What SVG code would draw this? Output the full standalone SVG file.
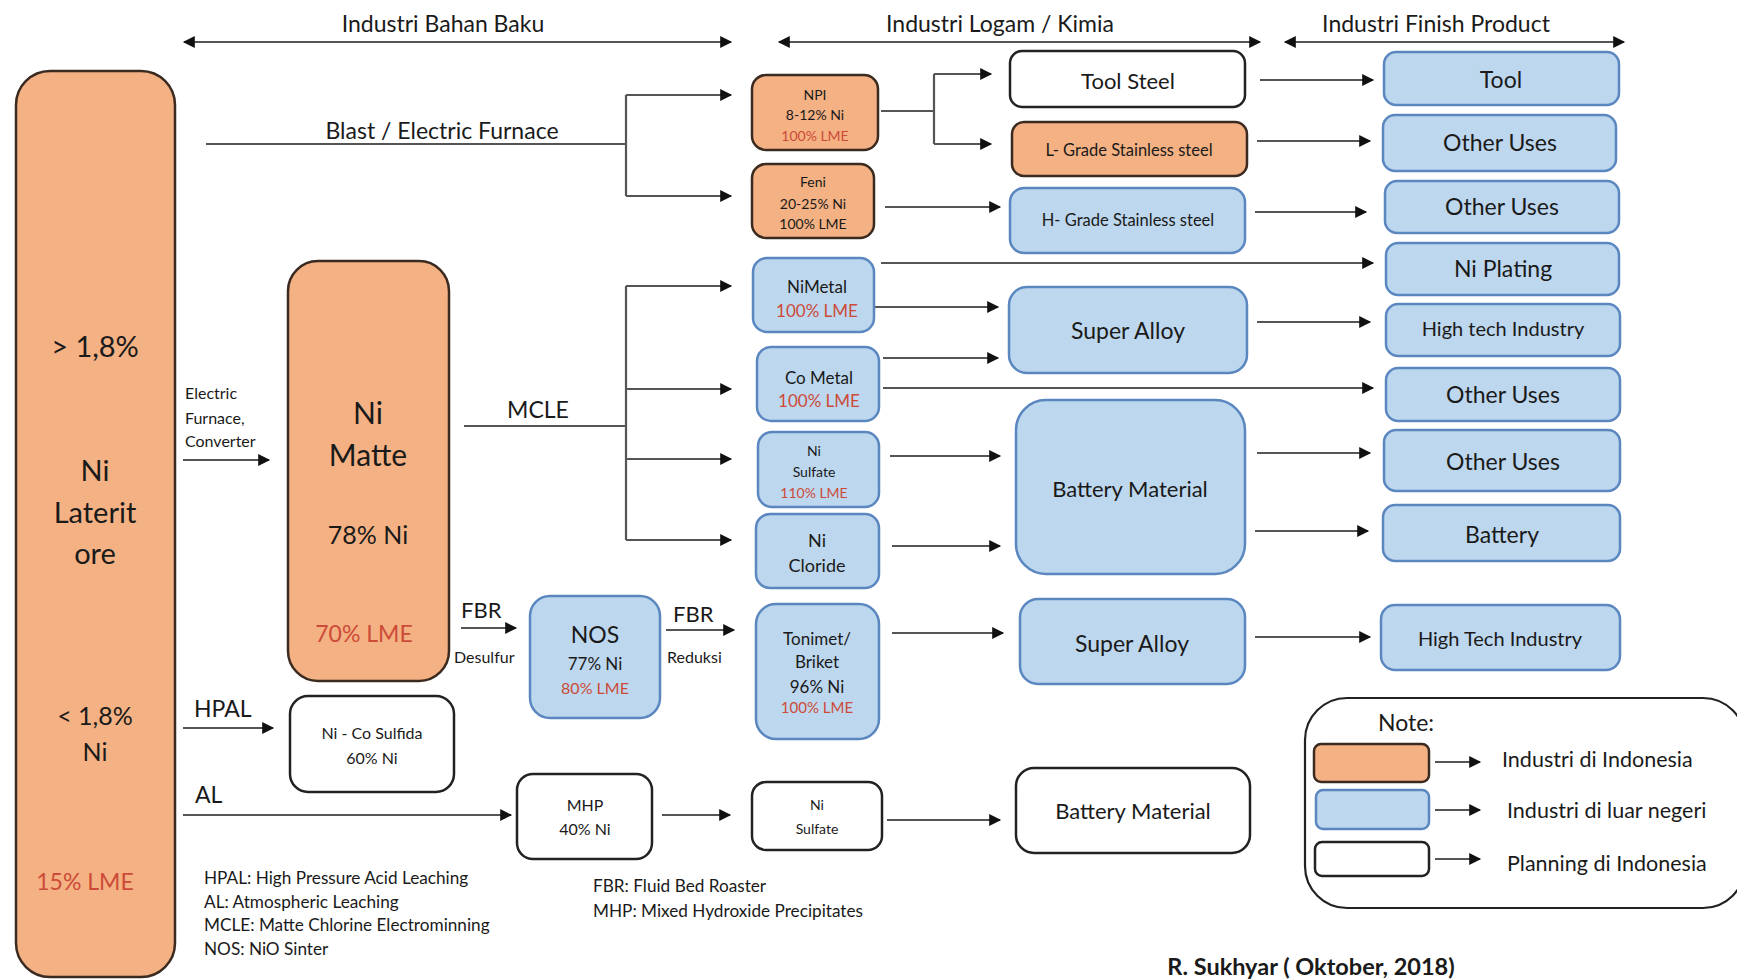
<svg xmlns="http://www.w3.org/2000/svg" width="1737" height="980" viewBox="0 0 1737 980">
<defs>
<marker id="ah" viewBox="0 0 10 10" refX="9" refY="5" markerWidth="13" markerHeight="12" markerUnits="userSpaceOnUse" orient="auto-start-reverse"><path d="M0,0 L10,5 L0,10 z" fill="#111"/></marker>
</defs>
<style>
text{font-family:Lato,"Open Sans","Liberation Sans",sans-serif;fill:#1a1a1a;text-anchor:middle}
.or{fill:#F4B183;stroke:#3b2a20;stroke-width:2.5}
.bl{fill:#BDD7EE;stroke:#5B87C0;stroke-width:2.5}
.wh{fill:#fff;stroke:#222;stroke-width:2.5}
.red{fill:#CC4B38}
.l{text-anchor:start}
.c line,.c path{stroke:#555;stroke-width:2.2;fill:none}
.c .a{marker-end:url(#ah)}
.c .d{marker-start:url(#ah);marker-end:url(#ah)}
</style>
<rect width="1737" height="980" fill="#fff"/>

<!-- headers -->
<g id="headers">
<text x="443" y="32" font-size="23">Industri Bahan Baku</text>
<text x="1000" y="32" font-size="23">Industri Logam / Kimia</text>
<text x="1436" y="32" font-size="23">Industri Finish Product</text>
</g>

<!-- connectors -->
<g class="c" id="connectors">
<line class="d" x1="184" y1="42" x2="731" y2="42"/>
<line class="d" x1="779" y1="42" x2="1260" y2="42"/>
<line class="d" x1="1285" y1="42" x2="1624" y2="42"/>
<!-- blast furnace -->
<line x1="206" y1="144" x2="626" y2="144"/>
<line x1="626" y1="95" x2="626" y2="196"/>
<line class="a" x1="626" y1="95" x2="731" y2="95"/>
<line class="a" x1="626" y1="196" x2="731" y2="196"/>
<!-- NPI split -->
<line x1="881" y1="111" x2="934" y2="111"/>
<line x1="934" y1="74" x2="934" y2="144"/>
<line class="a" x1="934" y1="74" x2="991" y2="74"/>
<line class="a" x1="934" y1="144" x2="991" y2="144"/>
<line class="a" x1="885" y1="207" x2="1000" y2="207"/>
<!-- to finish products -->
<line class="a" x1="1260" y1="80" x2="1373" y2="80"/>
<line class="a" x1="1257" y1="141" x2="1370" y2="141"/>
<line class="a" x1="1255" y1="212" x2="1366" y2="212"/>
<line class="a" x1="881" y1="263" x2="1373" y2="263"/>
<line class="a" x1="875" y1="307" x2="998" y2="307"/>
<line class="a" x1="883" y1="358" x2="998" y2="358"/>
<line class="a" x1="883" y1="388" x2="1373" y2="388"/>
<line class="a" x1="890" y1="456" x2="1000" y2="456"/>
<line class="a" x1="892" y1="546" x2="1000" y2="546"/>
<line class="a" x1="892" y1="633" x2="1003" y2="633"/>
<line class="a" x1="887" y1="820" x2="1000" y2="820"/>
<line class="a" x1="1257" y1="322" x2="1370" y2="322"/>
<line class="a" x1="1257" y1="453" x2="1370" y2="453"/>
<line class="a" x1="1255" y1="531" x2="1368" y2="531"/>
<line class="a" x1="1255" y1="637" x2="1370" y2="637"/>
<!-- MCLE -->
<line x1="464" y1="426" x2="626" y2="426"/>
<line x1="626" y1="286" x2="626" y2="540"/>
<line class="a" x1="626" y1="286" x2="731" y2="286"/>
<line class="a" x1="626" y1="389" x2="731" y2="389"/>
<line class="a" x1="626" y1="459" x2="731" y2="459"/>
<line class="a" x1="626" y1="540" x2="731" y2="540"/>
<!-- left side -->
<line class="a" x1="183" y1="460" x2="269" y2="460"/>
<line class="a" x1="461" y1="628" x2="516" y2="628"/>
<line class="a" x1="666" y1="630" x2="734" y2="630"/>
<line class="a" x1="183" y1="728" x2="273" y2="728"/>
<line class="a" x1="183" y1="815" x2="511" y2="815"/>
<line class="a" x1="662" y1="815" x2="730" y2="815"/>
<!-- legend arrows -->
<line class="a" x1="1435" y1="762" x2="1480" y2="762"/>
<line class="a" x1="1435" y1="810" x2="1480" y2="810"/>
<line class="a" x1="1435" y1="859" x2="1480" y2="859"/>
</g>

<!-- connector labels -->
<g id="labels">
<text x="442" y="139" font-size="23">Blast / Electric Furnace</text>
<text x="538" y="418" font-size="23">MCLE</text>
<text class="l" x="185" y="399" font-size="16">Electric</text>
<text class="l" x="185" y="424" font-size="16">Furnace,</text>
<text class="l" x="185" y="447" font-size="16">Converter</text>
<text class="l" x="461" y="618" font-size="22">FBR</text>
<text class="l" x="454" y="663" font-size="16">Desulfur</text>
<text class="l" x="673" y="622" font-size="22">FBR</text>
<text class="l" x="667" y="663" font-size="16">Reduksi</text>
<text class="l" x="194" y="717" font-size="23">HPAL</text>
<text class="l" x="195" y="803" font-size="23">AL</text>
</g>

<g id="n-ore"><rect class="or" x="16" y="71" width="159" height="906" rx="34"/>
<text x="95" y="357" font-size="29">&gt; 1,8%</text>
<text x="95" y="481" font-size="29">Ni</text>
<text x="95" y="523" font-size="29">Laterit</text>
<text x="95" y="564" font-size="29">ore</text>
<text x="95" y="725" font-size="25">&lt; 1,8%</text>
<text x="95" y="761" font-size="25">Ni</text>
<text class="red" x="85" y="890" font-size="23">15% LME</text></g>

<g id="n-matte"><rect class="or" x="288" y="261" width="161" height="420" rx="30"/>
<text x="368" y="424" font-size="30">Ni</text>
<text x="368" y="466" font-size="30">Matte</text>
<text x="368" y="544" font-size="25">78% Ni</text>
<text class="red" x="364" y="642" font-size="23">70% LME</text></g>

<g id="n-nos"><rect class="bl" x="530" y="596" width="130" height="122" rx="20"/>
<text x="595" y="643" font-size="23">NOS</text>
<text x="595" y="670" font-size="17">77% Ni</text>
<text class="red" x="595" y="694" font-size="16">80% LME</text></g>

<g id="n-nicos"><rect class="wh" x="290" y="696" width="164" height="96" rx="18"/>
<text x="372" y="739" font-size="16">Ni - Co Sulfida</text>
<text x="372" y="764" font-size="16">60% Ni</text></g>

<g id="n-mhp"><rect class="wh" x="517" y="774" width="135" height="85" rx="16"/>
<text x="585" y="811" font-size="16">MHP</text>
<text x="585" y="835" font-size="16">40% Ni</text></g>

<g id="n-npi"><rect class="or" x="752" y="75" width="126" height="75" rx="14"/>
<text x="815" y="100" font-size="14">NPI</text>
<text x="815" y="120" font-size="14">8-12% Ni</text>
<text class="red" x="815" y="141" font-size="14">100% LME</text></g>

<g id="n-feni"><rect class="or" x="752" y="164" width="122" height="74" rx="14"/>
<text x="813" y="187" font-size="14">Feni</text>
<text x="813" y="209" font-size="14">20-25% Ni</text>
<text x="813" y="229" font-size="14">100% LME</text></g>

<g id="n-nimetal"><rect class="bl" x="753" y="258" width="121" height="74" rx="14"/>
<text x="817" y="293" font-size="17">NiMetal</text>
<text class="red" x="817" y="317" font-size="17">100% LME</text></g>

<g id="n-cometal"><rect class="bl" x="757" y="347" width="122" height="74" rx="14"/>
<text x="819" y="384" font-size="17">Co Metal</text>
<text class="red" x="819" y="407" font-size="17">100% LME</text></g>

<g id="n-nisulfate"><rect class="bl" x="758" y="432" width="121" height="75" rx="14"/>
<text x="814" y="456" font-size="14">Ni</text>
<text x="814" y="477" font-size="14">Sulfate</text>
<text class="red" x="814" y="498" font-size="14">110% LME</text></g>

<g id="n-nicloride"><rect class="bl" x="756" y="514" width="123" height="74" rx="14"/>
<text x="817" y="547" font-size="18">Ni</text>
<text x="817" y="572" font-size="18">Cloride</text></g>

<g id="n-tonimet"><rect class="bl" x="756" y="604" width="123" height="135" rx="20"/>
<text x="817" y="645" font-size="17">Tonimet/</text>
<text x="817" y="668" font-size="17">Briket</text>
<text x="817" y="693" font-size="17">96% Ni</text>
<text class="red" x="817" y="713" font-size="15">100% LME</text></g>

<g id="n-nisulfate2"><rect class="wh" x="752" y="782" width="130" height="68" rx="14"/>
<text x="817" y="810" font-size="14">Ni</text>
<text x="817" y="834" font-size="14">Sulfate</text></g>

<g id="n-toolsteel"><rect class="wh" x="1010" y="51" width="235" height="56" rx="12"/>
<text x="1128" y="89" font-size="22">Tool Steel</text></g>

<g id="n-lgrade"><rect class="or" x="1012" y="122" width="235" height="54" rx="12"/>
<text x="1129" y="156" font-size="16.5">L- Grade Stainless steel</text></g>

<g id="n-hgrade"><rect class="bl" x="1010" y="188" width="235" height="65" rx="14"/>
<text x="1128" y="226" font-size="16.5">H- Grade Stainless steel</text></g>

<g id="n-superalloy1"><rect class="bl" x="1009" y="287" width="238" height="86" rx="18"/>
<text x="1128" y="339" font-size="23">Super Alloy</text></g>

<g id="n-battmat1"><rect class="bl" x="1016" y="400" width="229" height="174" rx="30"/>
<text x="1130" y="497" font-size="22">Battery Material</text></g>

<g id="n-superalloy2"><rect class="bl" x="1020" y="599" width="225" height="85" rx="18"/>
<text x="1132" y="652" font-size="23">Super Alloy</text></g>

<g id="n-battmat2"><rect class="wh" x="1016" y="768" width="234" height="85" rx="18"/>
<text x="1133" y="819" font-size="22">Battery Material</text></g>

<g id="n-tool"><rect class="bl" x="1384" y="52" width="235" height="53" rx="12"/>
<text x="1501" y="88" font-size="23">Tool</text></g>
<g id="n-other1"><rect class="bl" x="1383" y="115" width="233" height="56" rx="12"/>
<text x="1500" y="151" font-size="23">Other Uses</text></g>
<g id="n-other2"><rect class="bl" x="1385" y="181" width="234" height="52" rx="12"/>
<text x="1502" y="215" font-size="23">Other Uses</text></g>
<g id="n-niplating"><rect class="bl" x="1386" y="243" width="233" height="52" rx="12"/>
<text x="1503" y="277" font-size="23">Ni Plating</text></g>
<g id="n-hightech1"><rect class="bl" x="1386" y="304" width="234" height="52" rx="12"/>
<text x="1503" y="336" font-size="20">High tech Industry</text></g>
<g id="n-other3"><rect class="bl" x="1386" y="368" width="234" height="53" rx="12"/>
<text x="1503" y="403" font-size="23">Other Uses</text></g>
<g id="n-other4"><rect class="bl" x="1384" y="430" width="236" height="61" rx="12"/>
<text x="1503" y="470" font-size="23">Other Uses</text></g>
<g id="n-battery"><rect class="bl" x="1383" y="505" width="237" height="56" rx="12"/>
<text x="1502" y="543" font-size="23">Battery</text></g>
<g id="n-hightech2"><rect class="bl" x="1381" y="605" width="239" height="65" rx="14"/>
<text x="1500" y="646" font-size="20">High Tech Industry</text></g>

<g id="notes">
<text class="l" x="204" y="884" font-size="17.2">HPAL: High Pressure Acid Leaching</text>
<text class="l" x="204" y="908" font-size="17.2">AL: Atmospheric Leaching</text>
<text class="l" x="204" y="931" font-size="17.2">MCLE: Matte Chlorine Electrominning</text>
<text class="l" x="204" y="955" font-size="17.2">NOS: NiO Sinter</text>
<text class="l" x="593" y="892" font-size="17.2">FBR: Fluid Bed Roaster</text>
<text class="l" x="593" y="917" font-size="17.2">MHP: Mixed Hydroxide Precipitates</text>
<text x="1311" y="975" font-size="23.5" font-weight="bold">R. Sukhyar ( Oktober, 2018)</text>
</g>

<g id="legend">
<rect x="1305" y="698" width="440" height="210" rx="42" fill="none" stroke="#222" stroke-width="2.2"/>
<text class="l" x="1378" y="731" font-size="23">Note:</text>
<rect class="or" x="1314" y="744" width="115" height="38" rx="7"/>
<rect class="bl" x="1316" y="790" width="113" height="39" rx="7"/>
<rect class="wh" x="1315" y="842" width="114" height="34" rx="7"/>
<text class="l" x="1502" y="767" font-size="21.5">Industri di Indonesia</text>
<text class="l" x="1507" y="818" font-size="21.5">Industri di luar negeri</text>
<text class="l" x="1507" y="871" font-size="21.5">Planning di Indonesia</text>
</g>
</svg>
